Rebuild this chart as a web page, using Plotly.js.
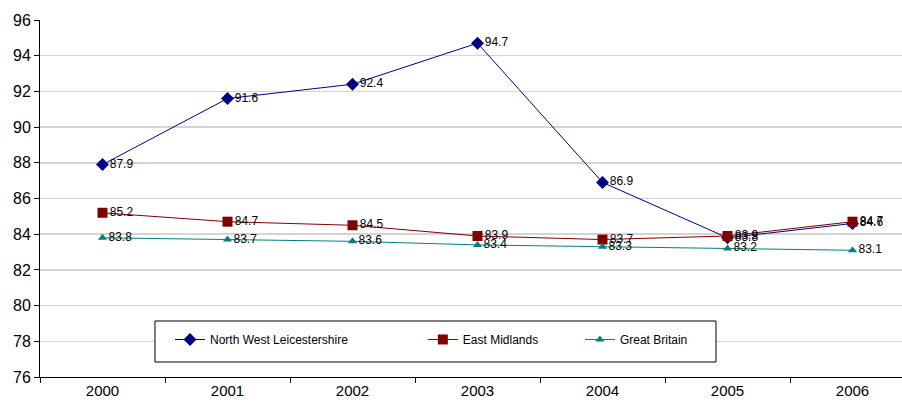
<!DOCTYPE html>
<html><head><meta charset="utf-8">
<script src="https://cdn.plot.ly/plotly-3.0.1.min.js"></script>
<style>html,body{margin:0;padding:0;background:#fff}#chart{width:902px;height:408px}</style>
</head><body><div id="chart"></div>
<script>
const years = ['2000','2001','2002','2003','2004','2005','2006'];
const nwLeics = [87.9, 91.6, 92.4, 94.7, 86.9, 83.8, 84.6];
const eastMidlands = [85.2, 84.7, 84.5, 83.9, 83.7, 83.9, 84.7];
const greatBritain = [83.8, 83.7, 83.6, 83.4, 83.3, 83.2, 83.1];
const seriesNames = ['North West Leicestershire', 'East Midlands', 'Great Britain'];
const pad = n => '\u00a0'.repeat(n);

function tr(y, name, color, symbol, size) {
  return {
    x: years, y: y, name: name, type: 'scatter', mode: 'lines+markers+text',
    line: {color: color, width: 1},
    marker: {color: color, symbol: symbol, size: size},
    text: y.map(v => v.toFixed(1)), textposition: 'middle right',
    textfont: {family: 'Liberation Sans, Arial, sans-serif', size: 12, color: '#000'},
    cliponaxis: false
  };
}
const data = [
  tr(nwLeics, seriesNames[0] + pad(21), '#000080', 'diamond', 10),
  tr(eastMidlands, seriesNames[1] + pad(11), '#800000', 'square', 10),
  tr(greatBritain, seriesNames[2], '#008080', 'triangle-up', 8)
];
const layout = {
  width: 902, height: 408,
  margin: {l: 40, r: 0, t: 20, b: 31},
  paper_bgcolor: '#fff', plot_bgcolor: '#fff',
  font: {family: 'Liberation Sans, Arial, sans-serif', color: '#000'},
  xaxis: {type: 'category', range: [-0.5, 6.396], tickson: 'boundaries',
    ticks: 'outside', ticklen: 5, tickcolor: '#000', showline: true, linecolor: '#000', linewidth: 1,
    showgrid: false, tickfont: {size: 15}, fixedrange: true},
  yaxis: {range: [76, 96], dtick: 2, ticks: 'outside', ticklen: 5, tickcolor: '#000',
    showline: true, linecolor: '#000', linewidth: 1, showgrid: true, gridcolor: '#d4d4d4', gridwidth: 1.5,
    zeroline: false, tickfont: {size: 16}, fixedrange: true},
  shapes: [{type: 'rect', xref: 'paper', yref: 'paper', x0: 0.1334, x1: 0.7842, y0: 0.042, y1: 0.1569,
    line: {color: '#000', width: 1}, fillcolor: '#fff', layer: 'above'}],
  showlegend: true,
  legend: {orientation: 'h', x: 0.1508, xanchor: 'left', y: 0.1457, yanchor: 'top',
    bgcolor: 'rgba(0,0,0,0)', borderwidth: 0, font: {size: 12}}
};
Plotly.newPlot('chart', data, layout, {displayModeBar: false, staticPlot: true});
</script></body></html>
